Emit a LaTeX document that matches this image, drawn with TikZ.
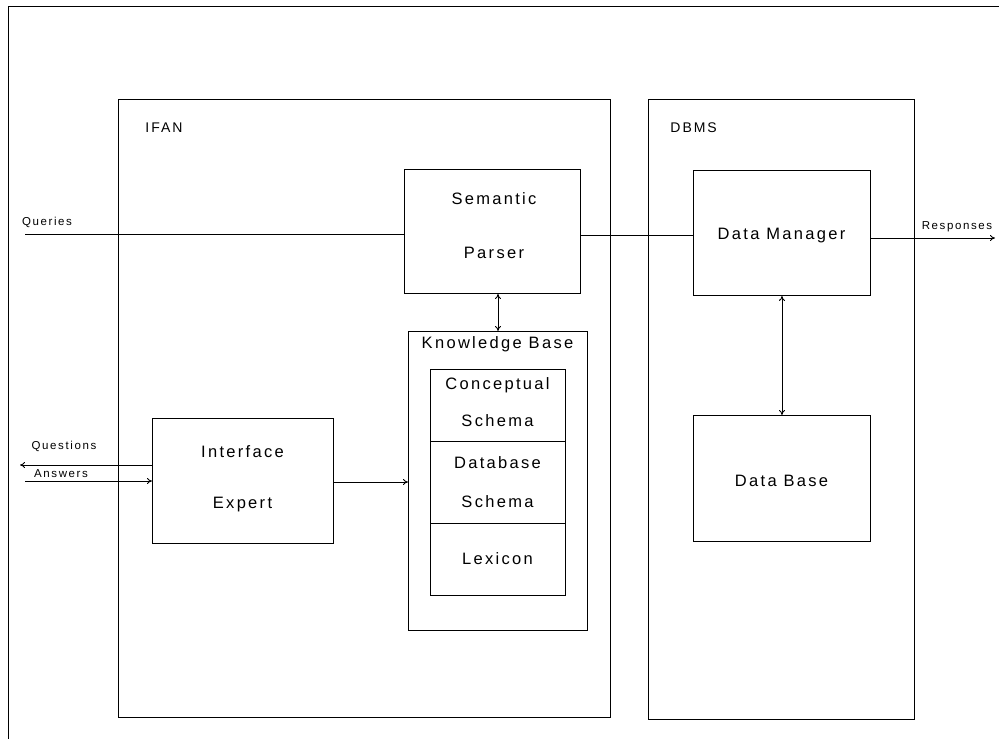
\documentclass[tikz,border=0pt]{standalone}
\usepackage{fontspec}
\setmainfont{Liberation Sans}
\newfontfamily\plotfont[LetterSpace=14]{Liberation Sans}
\usetikzlibrary{arrows.meta}
\begin{document}
\begin{tikzpicture}[x=1pt,y=-1pt,
  line width=0.9pt,
  box/.style={draw,rectangle,inner sep=0pt},
  lbl/.style={font=\plotfont\fontsize{16.5}{19}\selectfont,align=center,inner sep=0pt},
  small/.style={font=\plotfont\fontsize{11.5}{13}\selectfont,inner sep=1pt},
  arr/.style={-{To[length=5pt,width=6pt]}},
  darr/.style={{To[length=5pt,width=6pt]}-{To[length=5pt,width=6pt]}}]
\useasboundingbox (0,0) rectangle (999,739);
% outer frame (top and left)
\coordinate (otr) at (999,6);
\coordinate (otl) at (8,6);
\coordinate (obl) at (8,739);
\draw (otr) -- (otl) -- (obl);
% big boxes
\node[box,minimum width=492pt,minimum height=618pt,anchor=north west] (ifan) at (118,99) {};
\node[box,minimum width=266pt,minimum height=620pt,anchor=north west] (dbms) at (648,99) {};
\node[lbl,font=\plotfont\fontsize{14}{16}\selectfont,anchor=west] (ifanl) at (145,128) {IFAN};
\node[lbl,font=\plotfont\fontsize{14}{16}\selectfont,anchor=west] (dbmsl) at (670,128) {DBMS};
% inner boxes
\node[box,minimum width=176pt,minimum height=124pt,anchor=north west] (sp) at (404,169) {};
\node[lbl] (spt) at (494,199) {Semantic};
\node[lbl] (spb) at (494,253) {Parser};
\node[box,minimum width=179pt,minimum height=299pt,anchor=north west] (kb) at (408,331) {};
\node[lbl,anchor=north] (kbl) at (497.5,336) {Knowledge Base};
\node[box,minimum width=135pt,minimum height=226pt,anchor=north west] (kbi) at (430,369) {};
\coordinate (d1l) at (430,441); \coordinate (d1r) at (565,441);
\coordinate (d2l) at (430,523); \coordinate (d2r) at (565,523);
\draw (d1l) -- (d1r);
\draw (d2l) -- (d2r);
\node[lbl] (cs1) at (497.5,385) {Conceptual};
\node[lbl] (cs2) at (497.5,421) {Schema};
\node[lbl] (ds1) at (497.5,463) {Database};
\node[lbl] (ds2) at (497.5,502) {Schema};
\node[lbl] (lex) at (497.5,559) {Lexicon};
\node[box,minimum width=181pt,minimum height=125pt,anchor=north west] (ie) at (152,418) {};
\node[lbl] (iet) at (242.5,452) {Interface};
\node[lbl] (ieb) at (242.5,505) {Expert};
\node[box,minimum width=177pt,minimum height=125pt,anchor=north west] (dm) at (693,170) {};
\node[lbl] (dmt) at (781.5,236) {Data Manager};
\node[box,minimum width=177pt,minimum height=126pt,anchor=north west] (db) at (693,415) {};
\node[lbl] (dbt) at (781.5,481) {Data Base};
% connectors
\coordinate (qin) at (25,234);
\draw (qin) -- (sp.west |- qin);
\node[small] (ql) at (47,222) {Queries};
\draw (sp.east |- 0,235) -- (dm.west |- 0,235);
\coordinate (rout) at (995,238);
\draw[arr] (dm.east |- rout) -- (rout);
\node[small] (rl) at (957,227) {Responses};
\coordinate (qout) at (20,465);
\draw[arr] (ie.west |- qout) -- (qout);
\node[small] (qsl) at (64,446) {Questions};
\coordinate (ain) at (25,481);
\draw[arr] (ain) -- (ie.west |- ain);
\node[small] (al) at (61,474) {Answers};
\draw[arr] (ie.east |- 0,482) -- (kb.west |- 0,482);
\draw[darr] (sp.south -| 498,0) -- (kb.north -| 498,0);
\draw[darr] (dm.south) -- (db.north);
\end{tikzpicture}
\end{document}
